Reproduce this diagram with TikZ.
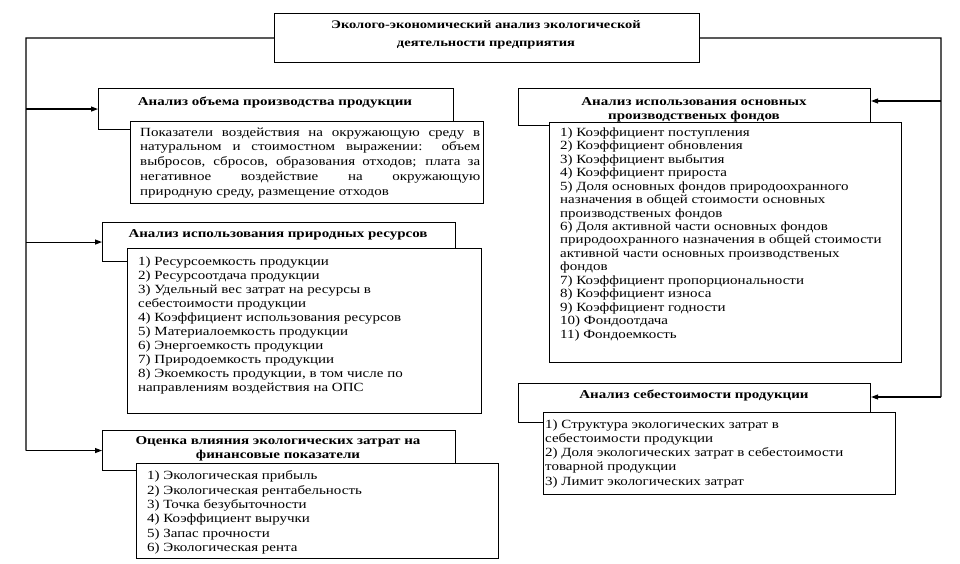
\documentclass[tikz,border=0pt]{standalone}
\usepackage{fontspec}
\setmainfont[FakeStretch=1.2]{Liberation Serif}
\newfontfamily\hdfont[FakeStretch=1.25]{Liberation Serif}
\usetikzlibrary{arrows.meta}
\tikzset{
  frame/.style={draw, line width=1.1pt, fill=white, inner sep=0pt, anchor=north west},
  lst/.style={anchor=north west, inner sep=0pt, align=left, font=\fontsize{12.5}{14}\selectfont},
  hdt/.style={anchor=north, inner sep=0pt, align=center, font=\hdfont\bfseries\fontsize{12}{14}\selectfont},
  conn/.style={line width=1.1pt},
  arr/.style={line width=1.1pt, -{Triangle[length=7pt,width=5pt]}}
}
\begin{document}
\begin{tikzpicture}[x=1pt,y=-1pt]
\useasboundingbox[fill=white] (0,0) rectangle (960,564);
% title
\node[frame, minimum width=425, minimum height=49] (top) at (274,13) {};
\node[hdt, font=\hdfont\bfseries\fontsize{11.6}{18}\selectfont] (topt) at (486,20.5) {Эколого-экономический анализ экологической\\деятельности предприятия};
% left column
\node[frame, minimum width=355, minimum height=41] (hd1) at (98,88) {};
\node[hdt] (hd1t) at (275,97) {Анализ объема производства продукции};
\node[frame, minimum width=353, minimum height=82] (ib1) at (130,121) {};
\node[lst, font=\fontsize{12.5}{14.7}\selectfont] (ib1t) at (140,127.5) {%
\makebox[340pt][s]{Показатели воздействия на окружающую среду в}\\
\makebox[340pt][s]{натуральном и стоимостном выражении: объем}\\
\makebox[340pt][s]{выбросов, сбросов, образования отходов; плата за}\\
\makebox[340pt][s]{негативное воздействие на окружающую}\\
природную среду, размещение отходов};

\node[frame, minimum width=353, minimum height=39] (hd2) at (102,222) {};
\node[hdt] (hd2t) at (278,229) {Анализ использования природных ресурсов};
\node[frame, minimum width=354, minimum height=165] (ib2) at (127,248) {};
\node[lst] (ib2t) at (138,256.5) {1) Ресурсоемкость продукции\\
2) Ресурсоотдача продукции\\
3) Удельный вес затрат на ресурсы в\\
себестоимости продукции\\
4) Коэффициент использования ресурсов\\
5) Материалоемкость продукции\\
6) Энергоемкость продукции\\
7) Природоемкость продукции\\
8) Экоемкость продукции, в том числе по\\
направлениям воздействия на ОПС};

\node[frame, minimum width=353, minimum height=40] (hd3) at (102,430) {};
\node[hdt] (hd3t) at (278,436) {Оценка влияния экологических затрат на\\финансовые показатели};
\node[frame, minimum width=362, minimum height=95] (ib3) at (136,463) {};
\node[lst, font=\fontsize{12.5}{14.4}\selectfont] (ib3t) at (147,470.5) {1) Экологическая прибыль\\
2) Экологическая рентабельность\\
3) Точка безубыточности\\
4) Коэффициент выручки\\
5) Запас прочности\\
6) Экологическая рента};

% right column
\node[frame, minimum width=352, minimum height=37] (rh1) at (518,88) {};
\node[hdt] (rh1t) at (694,97) {Анализ использования основных\\производственых фондов};
\node[frame, minimum width=352, minimum height=240] (rb1) at (549,122) {};
\node[lst, font=\fontsize{12.5}{13.45}\selectfont] (rb1t) at (560,127.5) {1) Коэффициент поступления\\
2) Коэффициент обновления\\
3) Коэффициент выбытия\\
4) Коэффициент прироста\\
5) Доля основных фондов природоохранного\\
назначения в общей стоимости основных\\
производственых фондов\\
6) Доля активной части основных фондов\\
природоохранного назначения в общей стоимости\\
активной части основных производственых\\
фондов\\
7) Коэффициент пропорциональности\\
8) Коэффициент износа\\
9) Коэффициент годности\\
10) Фондоотдача\\
11) Фондоемкость};

\node[frame, minimum width=352, minimum height=39] (rh2) at (518,383) {};
\node[hdt] (rh2t) at (694,390) {Анализ себестоимости продукции};
\node[frame, minimum width=352, minimum height=82] (rb2) at (543,412) {};
\node[lst, font=\fontsize{12.5}{14.2}\selectfont] (rb2t) at (545,419.5) {1) Структура экологических затрат в\\
себестоимости продукции\\
2) Доля экологических затрат в себестоимости\\
товарной продукции\\
3) Лимит экологических затрат};

% connectors
\coordinate (lt) at (26,38);
\coordinate (rt) at (941,38);
\coordinate (ra1) at (941,101);
\coordinate (ra2) at (941,397);
\draw[conn] (top.west) -- (lt) -- (lt |- hd3.west);
\draw[arr] (lt |- hd1.west) -- (hd1.west);
\draw[arr] (lt |- hd2.west) -- (hd2.west);
\draw[arr] (lt |- hd3.west) -- (hd3.west);
\draw[conn] (top.east) -- (rt) -- (ra2);
\draw[arr] (ra1) -- (ra1 -| rh1.east);
\draw[arr] (ra2) -- (ra2 -| rh2.east);
\end{tikzpicture}
\end{document}
